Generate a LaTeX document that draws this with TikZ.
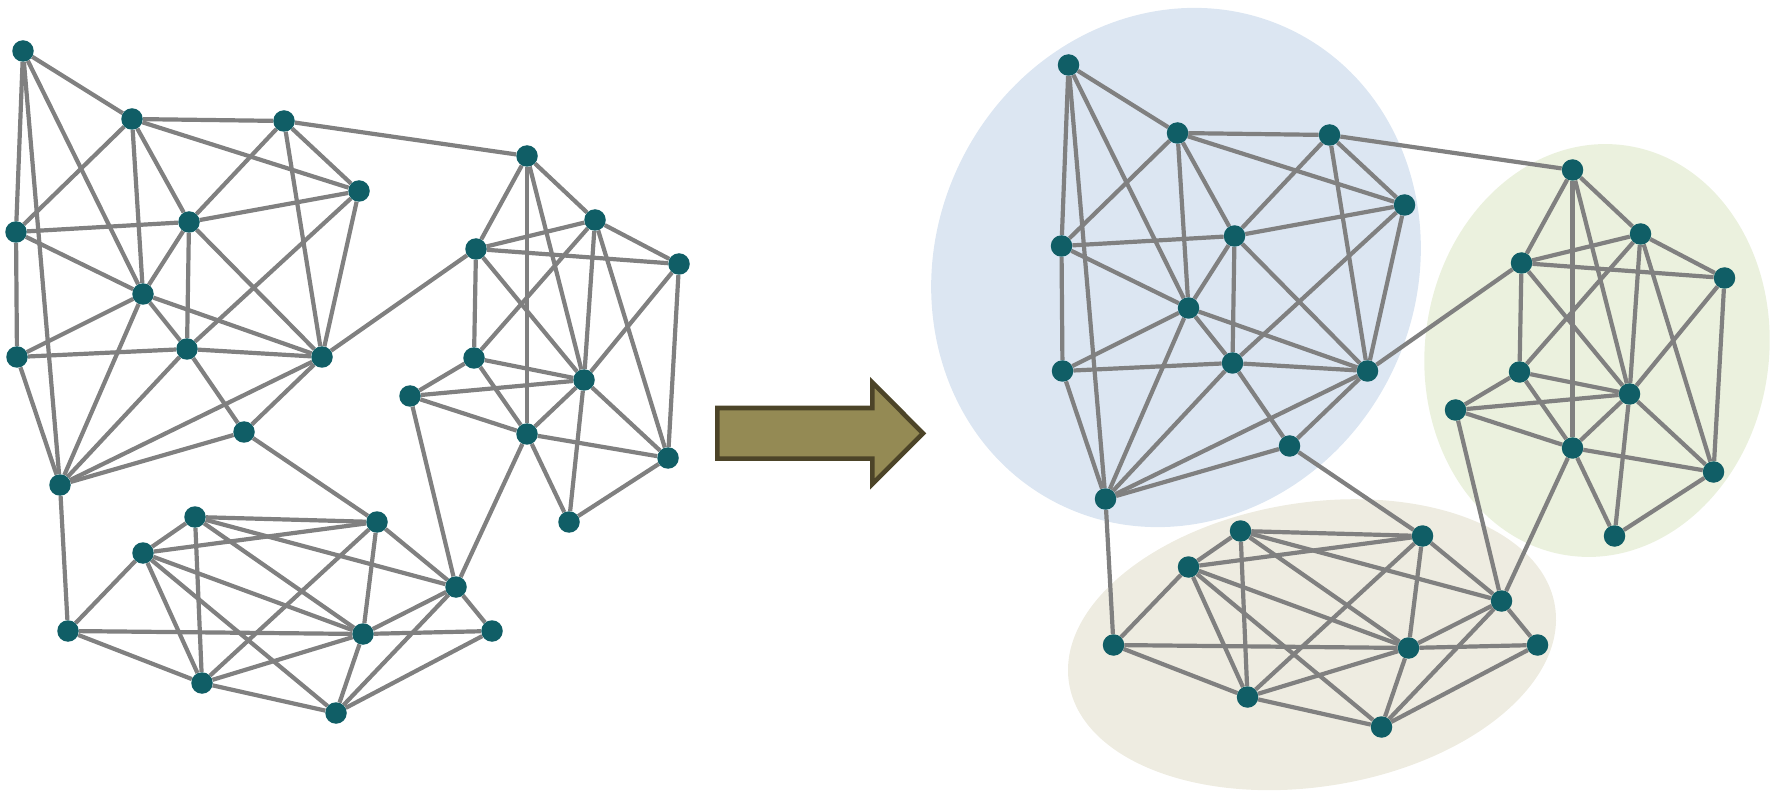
\documentclass[tikz,border=0pt]{standalone}
\pgfdeclarelayer{blobs}
\pgfdeclarelayer{wires}
\pgfsetlayers{blobs,wires,main}

\definecolor{nodeteal}{RGB}{16,94,102}
\definecolor{wiregray}{RGB}{128,128,128}
\definecolor{blobblue}{RGB}{220,230,242}
\definecolor{blobgreen}{RGB}{235,241,222}
\definecolor{blobtan}{RGB}{238,236,225}
\definecolor{arrowfill}{RGB}{148,138,84}
\definecolor{arrowline}{RGB}{76,68,40}

\tikzset{
  dot/.style={circle, fill=nodeteal, draw=none, minimum size=21.5pt, inner sep=0pt},
  wire/.style={draw=wiregray, line width=4.2pt},
  bigarrow/.style={fill=arrowfill, draw=arrowline, line width=4.6pt, line join=miter}
}

% vertex positions of the network
\newcommand\netnodes{A/23/51, B/132/119, C/284/121, D/359/191, E/16/232, F/189/222,
  G/143/294, H/17/357, I/187/349, J/322/357, K/527/156, L/595/220, M/476/249,
  N/679/264, O/474/358, P/584/380, Q/410/396, R/527/434, S/668/458, T/244/432,
  U/60/485, V/195/517, W/377/522, X/143/553, Y/68/631, Z/363/634, a/202/683,
  b/336/713, c/569/522, d/456/587, e/492/631}

% links of the network
\newcommand\netedges{A/B, A/E, A/U, A/G,
  B/C, B/D, B/E, B/F, B/G,
  C/D, C/F, C/J, C/K,
  D/F, D/I, D/J,
  E/F, E/G, E/H,
  F/G, F/I, F/J,
  G/H, G/I, G/J, G/U,
  H/I, H/U,
  I/J, I/T, I/U,
  J/M, J/T, J/U,
  T/U, T/W,
  U/Y,
  K/M, K/L, K/R, K/P,
  L/M, L/N, L/O, L/P, L/S,
  M/N, M/O, M/P,
  N/P, N/S,
  O/P, O/Q, O/R,
  P/Q, P/R, P/S, P/c,
  Q/R, Q/d,
  R/S, R/c, R/d,
  S/c,
  V/W, V/X, V/a, V/Z, V/d,
  W/X, W/a, W/Z, W/d,
  X/Y, X/a, X/Z, X/b,
  Y/Z, Y/a,
  Z/a, Z/b, Z/d, Z/e,
  a/b,
  b/d, b/e,
  d/e}

\newcommand\drawnetwork[1]{%
  \foreach \n/\px/\py in \netnodes {\node[dot] (#1\n) at (\px,\py) {};}
  \begin{pgfonlayer}{wires}
    \foreach \u/\v in \netedges {\draw[wire] (#1\u) -- (#1\v);}
  \end{pgfonlayer}
}

\begin{document}
\begin{tikzpicture}[x=1pt, y=-1pt]
  \useasboundingbox (0,0) rectangle (1781,791);

  % original network
  \drawnetwork{l}

  % transformation arrow
  \draw[bigarrow] (717.3,408) -- (872.3,408) -- (872.3,382.5) -- (923,433.3)
    -- (872.3,484) -- (872.3,458.7) -- (717.3,458.7) -- cycle;

  % clustered network
  \begin{scope}[shift={(1045.5,14)}]
    \drawnetwork{r}
  \end{scope}

  % community regions
  \begin{pgfonlayer}{blobs}
    \fill[blobtan, rotate around={9:(1312,644.7)}] (1312,644.7) ellipse [x radius=246, y radius=142];
    \fill[blobgreen, rotate around={-7.7:(1597,350.5)}] (1597,350.5) ellipse [x radius=172, y radius=207];
    \fill[blobblue, rotate around={-26:(1176,267.5)}] (1176,267.5) ellipse [x radius=240, y radius=264];
  \end{pgfonlayer}
\end{tikzpicture}
\end{document}
